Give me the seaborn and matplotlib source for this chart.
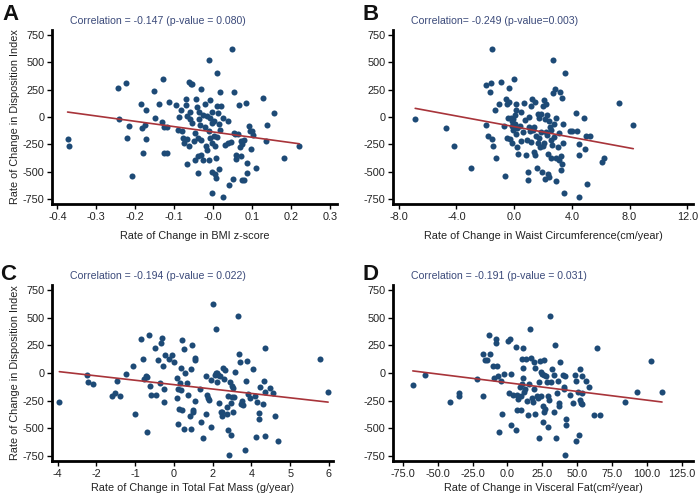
import numpy as np
import seaborn as sns
import matplotlib
matplotlib.use("Agg")
import matplotlib.pyplot as plt

# Values (estimated)
bmi_x = [-0.374, -0.371, -0.245, -0.224, -0.241, -0.215, -0.221, -0.209, -0.185, -0.172,
         -0.182, -0.175, -0.179, -0.172, -0.152, -0.150, -0.130, -0.138, -0.131, -0.126,
         -0.119, -0.126, -0.119, -0.113, -0.096, -0.089, -0.091, -0.083, -0.080, -0.078,
         -0.074, -0.070, -0.070, -0.068, -0.066, -0.066, -0.062, -0.057, -0.054, -0.060,
         -0.059, -0.062, -0.055, -0.050, -0.046, -0.046, -0.044, -0.041, -0.040, -0.039,
         -0.038, -0.036, -0.036, -0.035, -0.032, -0.031, -0.032, -0.027, -0.026, -0.022,
         -0.021, -0.018, -0.016, -0.015, -0.012, -0.012, -0.010, -0.008, -0.007, -0.007,
         -0.004, -0.002, -0.002, -0.004, -0.002, 0.003, 0.003, 0.005, 0.005, 0.007,
         0.007, 0.009, 0.011, 0.011, 0.013, 0.014, 0.018, 0.017, 0.015, 0.019,
         0.025, 0.026, 0.031, 0.037, 0.038, 0.041, 0.045, 0.048, 0.050, 0.053,
         0.054, 0.056, 0.058, 0.059, 0.063, 0.067, 0.068, 0.071, 0.072, 0.074,
         0.078, 0.075, 0.078, 0.085, 0.086, 0.088, 0.091, 0.094, 0.097, 0.099,
         0.103, 0.111, 0.128, 0.135, 0.139, 0.157, 0.182, 0.221]
bmi_y = [-204, -265, 268, 308, -21, -82, -192, -540, 119, 67,
         -98, -73, -326, -201, 235, -12, 348, 122, -43, -92,
         -92, -332, -332, 137, 113, 3, -116, 67, -131, -192,
         -235, 168, 107, 6, -204, -433, 317, 305, 299, 43,
         -15, -268, -55, -217, -390, -143, 168, 92, -189, -512,
         -357, 49, -21, -76, -351, 256, -214, -390, 21, 119,
         -92, -268, -305, 6, 518, -390, -131, 153, -6, -195,
         -238, -55, -695, -503, 46, -40, -177, -518, -268, -375,
         -555, -183, 403, 98, 34, -473, 229, -122, -67, 98,
         -6, -732, -259, -238, -37, -619, -232, 625, -570, -143,
         229, -152, -345, -384, -152, 113, -274, -223, -354, -580,
         -580, -244, -214, 131, -512, -418, -82, -128, -293, -125,
         -168, -466, 177, -223, -70, 37, -372, -265]

waist_x = [-6.86, -4.70, -4.19, -3.02, -1.98, -1.58, -1.56, -1.70, -1.98, -1.79,
           -1.51, -1.47, -1.35, -1.26, -1.07, -0.93, -0.72, -0.63, -0.58, -0.53,
           -0.47, -0.42, -0.37, -0.35, -0.26, -0.21, -0.16, -0.14, -0.12, -0.07,
           -0.05, 0.00, 0.05, 0.07, 0.12, 0.16, 0.23, 0.30, 0.40, 0.49,
           0.49, 0.70, 0.74, 0.81, 0.91, 0.93, 0.98, 1.00, 1.05, 1.09,
           1.16, 1.19, 1.26, 1.30, 1.35, 1.42, 1.47, 1.51, 1.58, 1.63,
           1.67, 1.70, 1.74, 1.79, 1.86, 1.88, 1.93, 1.98, 2.02, 2.07,
           2.09, 2.12, 2.16, 2.21, 2.26, 2.30, 2.33, 2.37, 2.42, 2.44,
           2.49, 2.53, 2.58, 2.63, 2.67, 2.72, 2.77, 2.84, 2.88, 2.91,
           2.93, 3.02, 3.09, 3.14, 3.19, 3.23, 3.28, 3.30, 3.30, 3.37,
           3.42, 3.49, 3.53, 3.84, 4.02, 4.30, 4.35, 4.47, 4.53, 4.53,
           4.84, 4.88, 4.95, 5.05, 5.28, 6.09, 6.23, 7.26, 8.26, 0.21,
           0.58, 1.35, 2.21, 2.58, 2.79, 0.12]
waist_y = [-18, -101, -265, -467, 296, 308, 622, 232, -73, -177,
           -201, -265, 67, -372, 119, 317, -82, -540, 168, -192,
           122, -9, 268, 137, -204, -6, -37, -238, -82, -116,
           -21, 348, 21, -61, 61, 116, -274, -342, -82, 46,
           -223, 125, -24, -345, -207, -580, -503, -88, 3, -128,
           98, -232, 165, -122, -320, -345, 137, -177, -467, 30,
           -235, -6, -192, -274, 30, -137, -506, 104, -265, 153,
           -238, -21, -570, 116, -168, 15, -335, -518, -549, -40,
           -92, -375, -116, -253, 223, 518, -183, 259, -6, -586,
           -375, -274, -146, -397, 229, -488, -354, 177, -427, -61,
           -235, -695, 403, -128, -131, 37, -131, -244, -351, -732,
           -9, -290, -177, -610, -171, -412, -372, 128, -73, -104,
           -137, -92, -137, -214, -61, -152]

# panel C x axis carries uneven tick labels on evenly spaced ticks
fat_ticks = ["-4", "-2", "-1", "0", "2", "4", "5", "6"]
fat_x = [-3.94, -2.92, -2.90, -2.71, -1.98, -1.88, -1.72, -1.82, -1.49, -1.23,
         -1.14, -0.93, -0.84, -0.81, -0.74, -0.71, -0.64, -0.59, -0.55, -0.41,
         -0.39, -0.30, -0.22, -0.19, -0.16, -0.10, -0.08, -0.08, -0.06, 0.12,
         0.21, 0.27, 0.39, 0.41, 0.44, 0.45, 0.49, 0.51, 0.54, 0.56,
         0.57, 0.58, 0.64, 0.66, 0.70, 0.78, 0.82, 0.88, 0.92, 0.91,
         0.94, 0.97, 1.00, 1.06, 1.08, 1.06, 1.25, 1.30, 1.37, 1.46,
         1.47, 1.52, 1.54, 1.56, 1.65, 1.67, 1.72, 1.80, 1.82, 1.84,
         1.86, 1.89, 1.92, 1.95, 1.98, 2.01, 2.05, 2.07, 2.11, 2.13,
         2.18, 2.23, 2.25, 2.27, 2.29, 2.33, 2.35, 2.38, 2.39, 2.41,
         2.44, 2.47, 2.51, 2.55, 2.65, 2.70, 2.72, 2.74, 2.80, 2.82,
         2.90, 2.94, 2.97, 3.03, 3.09, 3.19, 3.27, 3.31, 3.36, 3.41,
         3.44, 3.46, 3.58, 3.61, 3.64, 3.66, 3.66, 3.82, 3.95, 4.03,
         4.13, 5.66, 5.97, 2.47, -0.71]
fat_y = [-265, -15, -82, -98, -204, -180, -204, -73, -9, 61,
         -372, 308, 122, -52, -30, -537, 345, -119, -195, 229,
         -195, 116, -92, 268, 314, 64, -143, -265, 162, 122,
         162, 101, -43, -229, -143, -464, -326, -92, -152, 46,
         -335, 296, 217, -509, -3, -92, -195, -387, -509, 34,
         256, -335, -348, 116, 140, -250, -143, -439, -586, -369,
         -27, -195, -229, -241, -491, -67, 625, -21, 3, 396,
         -82, 3, -15, -274, -30, -351, -387, -351, 46, -52,
         24, -311, -372, -518, -204, -738, -82, -274, -564, -220,
         -113, -351, -220, 9, 512, 168, 101, -281, -250, -290,
         -698, -73, 110, -189, -229, 34, -204, -579, -265, -357,
         -412, -128, -281, -76, 229, -570, -168, -131, -183, -387,
         -616, 125, -174, -137, -37]

visc_x = [-67.8, -58.9, -40.9, -34.9, -34.6, -21.6, -17.8, -17.3, -16.1, -14.4,
          -13.0, -12.5, -10.1, -9.4, -8.4, -7.9, -7.2, -6.5, -6.0, -4.8,
          -3.6, -2.2, 0.2, 1.7, 1.2, 2.6, 2.9, 4.3, 6.3, 6.3,
          6.7, 7.2, 7.5, 9.1, 9.6, 9.6, 10.3, 10.8, 11.1, 11.5,
          11.5, 12.0, 12.3, 13.2, 13.9, 15.1, 15.6, 16.3, 16.8, 17.5,
          18.0, 18.8, 19.2, 19.5, 20.0, 21.2, 21.9, 22.4, 22.8, 23.6,
          24.0, 24.3, 24.8, 25.2, 25.7, 26.0, 26.2, 26.4, 26.9, 27.6,
          28.4, 28.8, 29.1, 29.6, 30.3, 31.2, 32.0, 33.2, 33.7, 34.4,
          35.1, 35.6, 36.1, 36.8, 37.3, 38.0, 39.9, 40.4, 40.9, 41.1,
          41.6, 42.1, 42.3, 44.7, 47.1, 48.3, 48.8, 49.3, 50.5, 51.2,
          51.7, 51.9, 52.4, 53.1, 53.6, 53.6, 56.5, 58.4, 62.0, 64.4,
          66.1, 84.1, 92.8, 102.9, 110.8]
visc_y = [-104, -18, -265, -180, -204, -58, -204, 168, 116, 116,
          345, 168, 64, -46, 305, 268, 61, -30, -537, -73,
          -372, -12, 290, 305, -180, -6, -467, -195, 232, -515,
          -195, -335, -235, -128, -335, -204, -98, 125, -46, 46,
          223, -174, -143, 122, -250, -378, -98, 396, 131, -229,
          -265, 101, -143, 46, -366, -204, -229, -586, -82, 110,
          9, -210, -6, -439, -296, 116, -15, -351, -326, -30,
          -82, -488, -204, -244, 518, -82, 34, -351, -15, 253,
          -586, -183, -76, -296, -271, 95, -15, -122, -143, -738,
          -30, -412, -470, -195, -271, -15, -76, -613, -174, -561,
          -241, 34, -271, -281, -180, -27, -76, -122, -378, 229,
          -378, -265, -168, 110, -174]

corr_texts = ["Correlation = -0.147 (p-value = 0.080)",
              "Correlation= -0.249 (p-value=0.003)",
              "Correlation = -0.194 (p-value = 0.022)",
              "Correlation = -0.191 (p-value = 0.031)"]
x_labels = ["Rate of Change in BMI z-score",
            "Rate of Change in Waist Circumference(cm/year)",
            "Rate of Change in Total Fat Mass (g/year)",
            "Rate of Change in Visceral Fat(cm\u00b2/year)"]
y_label = "Rate of Change in Disposition Index"
y_ticks = [750, 500, 250, 0, -250, -500, -750]

sns.set_style("ticks")
plt.rcParams["font.family"] = ["Liberation Sans", "DejaVu Sans"]

fig = plt.figure(figsize=(7, 4.96), dpi=100)
W, H = 700, 496
# axes boxes in pixel coords: left, top, right, bottom
boxes = [(52, 30, 337, 204), (393, 30, 693, 204),
         (52, 285, 333, 461), (393, 285, 693, 461)]
letters = ["A", "B", "C", "D"]
letter_pos = [(2, 4), (363, 4), (0, 264), (362, 264)]

panels = [(bmi_x, bmi_y), (waist_x, waist_y), (fat_x, fat_y), (visc_x, visc_y)]
xlims = [(-0.414, 0.318), (-8.4, 12.4), (-4.21, 6.15), (-82, 133)]
dot = "#1d4a76"
line = "#a8343a"

for i, (xs, ys) in enumerate(panels):
    l, t, r, b = boxes[i]
    ax = fig.add_axes([l / W, 1 - b / H, (r - l) / W, (b - t) / H])
    sns.regplot(x=np.array(xs), y=np.array(ys), ax=ax, ci=None,
                scatter_kws=dict(s=19, color=dot, linewidths=0, alpha=1),
                line_kws=dict(color=line, lw=1.2))
    ax.set_xlim(*xlims[i])
    ax.set_ylim(-795, 795)
    ax.set_yticks(y_ticks)
    ax.set_yticklabels([str(v) for v in y_ticks])
    if i == 0:
        ax.set_xticks(np.round(np.arange(-0.4, 0.31, 0.1), 1))
        ax.set_xticklabels(["%.1f" % v for v in np.arange(-0.4, 0.31, 0.1)])
    elif i == 1:
        ax.set_xticks([-8, -4, 0, 4, 8, 12])
        ax.set_xticklabels(["%.1f" % v for v in [-8, -4, 0, 4, 8, 12]])
    elif i == 2:
        ax.set_xticks(np.linspace(-4, 6, 8))
        ax.set_xticklabels(fat_ticks)
    else:
        vals = [-75, -50, -25, 0, 25, 50, 75, 100, 125]
        ax.set_xticks(vals)
        ax.set_xticklabels(["%.1f" % v for v in vals])
    sns.despine(ax=ax)
    for s in ["left", "bottom"]:
        ax.spines[s].set_linewidth(2)
        ax.spines[s].set_color("black")
    ax.tick_params(axis="both", labelsize=7.8, length=3.5, width=1,
                   color="black", labelcolor="#222222", pad=2)
    ax.set_xlabel(x_labels[i], fontsize=7.8, color="#222222",
                  labelpad=7 if i < 2 else 3)
    if i in (0, 2):
        ax.set_ylabel(y_label, fontsize=7.8, color="#222222", labelpad=2)
    else:
        ax.set_ylabel("")
    fig.text((l + 18) / W, 1 - (t - 9) / H, corr_texts[i], fontsize=7.6,
             color="#3b4a7a", ha="left", va="center")
    lx, ly = letter_pos[i]
    fig.text(lx / W, 1 - ly / H, letters[i], fontsize=16, fontweight="bold",
             ha="left", va="top", color="#111111")

fig.savefig("out.png", dpi=100)
